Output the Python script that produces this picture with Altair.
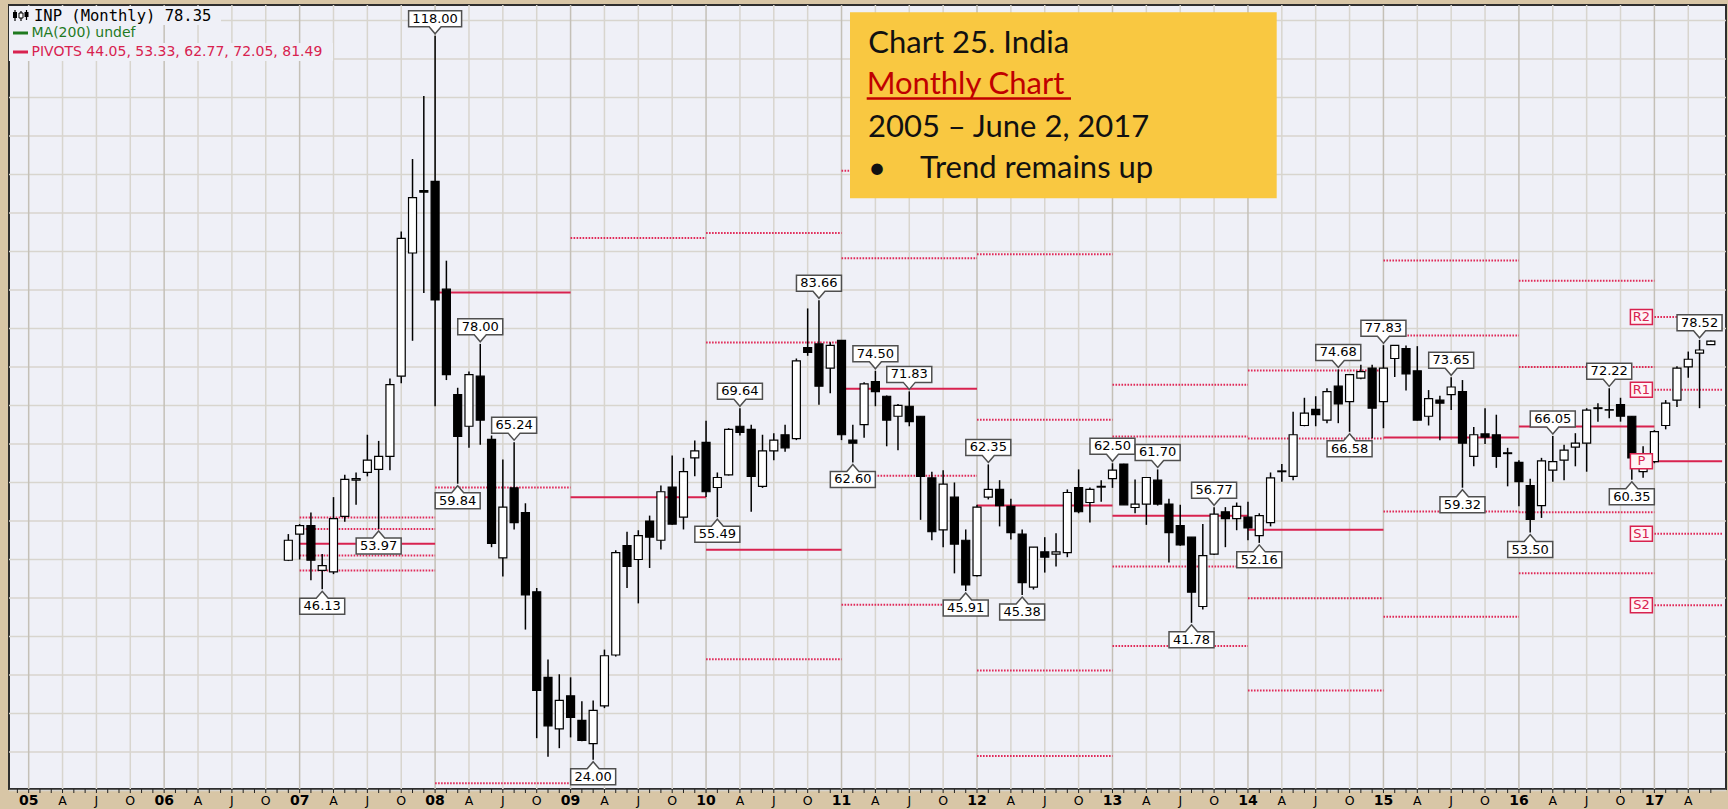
import altair as alt
import pandas as pd

# Bar index 0 = January 2005; the price series starts with December 2006.
FIRST_BAR = 23

OPEN = [
    49.9,                                                                      # 2006 Dec
    53.3, 54.4, 48.6, 48.4, 55.6, 60.3, 61.3, 61.7, 63.4, 73.8, 89.8, 97.9,    # 2007
    99.1, 85.1, 71.4, 67.3, 73.8, 65.6, 50.2, 59.3, 56.1, 45.8, 34.7, 28.0,    # 2008
    32.3, 29.1, 26.1, 31.0, 37.6, 51.8, 50.0, 55.0, 52.5, 59.4, 55.5, 63.2,    # 2009
    65.2, 59.35, 61.0, 67.3, 66.9, 59.5, 64.1, 66.2, 65.7, 77.5, 78.0, 74.85,  # 2010
    78.44, 65.5, 67.5, 73.1, 71.2, 68.6, 69.9, 68.6, 60.6, 53.85, 58.1, 52.5,  # 2011
    47.9, 58.1, 59.1, 56.9, 53.3, 46.4, 51.0, 50.7, 50.9, 59.35, 57.4, 59.4,   # 2012
    60.5, 62.4, 56.75, 57.2, 60.3, 57.2, 54.4, 52.9, 43.9, 50.7, 56.2, 55.3,   # 2013
    55.5, 53.1, 54.8, 61.4, 60.8, 67.4, 69.5, 68.1, 72.5, 70.5, 73.55, 74.85,  # 2014
    70.5, 76.1, 77.4, 74.5, 68.6, 70.7, 71.4, 71.8, 63.4, 66.3, 66.2, 63.85,   # 2015
    62.6, 59.6, 57.0, 61.6, 62.9, 64.6, 65.1, 69.6, 69.4, 70.1, 68.6, 61.4,    # 2016
    62.7, 67.4, 70.7, 75.0, 76.8, 77.9,                                        # 2017
]
HIGH = [
    53.3,
    54.6, 56.1, 50.7, 58.1, 61.0, 61.3, 66.2, 65.4, 73.5, 92.6, 102.0, 110.2,
    118.0, 88.8, 72.3, 74.4, 78.0, 66.1, 63.0, 65.24, 57.3, 46.3, 37.0, 35.1,
    34.7, 31.6, 31.7, 38.3, 51.2, 53.6, 53.8, 55.7, 59.6, 63.5, 63.2, 65.45,
    68.0, 61.3, 67.05, 69.64, 67.5, 66.2, 66.4, 67.5, 76.1, 82.6, 83.66, 78.2,
    78.44, 67.5, 73.0, 74.5, 71.3, 70.2, 71.83, 68.6, 61.4, 61.6, 60.0, 53.9,
    57.1, 62.35, 60.3, 57.9, 53.9, 51.6, 52.9, 53.4, 59.1, 61.7, 59.35, 60.3,
    62.5, 62.42, 60.4, 60.65, 61.7, 57.9, 57.1, 52.9, 54.6, 56.77, 56.8, 57.4,
    57.5, 56.0, 61.3, 62.4, 69.2, 71.0, 71.2, 72.25, 74.68, 74.0, 75.3, 75.3,
    77.83, 77.7, 77.8, 77.7, 72.0, 71.25, 73.65, 73.3, 67.2, 69.65, 68.8, 64.5,
    62.9, 60.5, 63.2, 66.05, 64.9, 66.4, 69.65, 70.3, 72.22, 71.0, 68.6, 64.7,
    66.8, 70.7, 75.1, 77.0, 78.52, 78.44,
]
LOW = [
    49.8,
    50.0, 47.3, 46.13, 48.1, 54.9, 57.1, 60.8, 53.97, 61.6, 72.9, 78.4, 84.6,
    69.9, 73.3, 59.84, 64.5, 64.9, 51.6, 47.8, 53.9, 40.9, 26.8, 24.4, 25.5,
    26.9, 26.4, 24.0, 30.7, 37.4, 46.3, 44.3, 48.9, 51.3, 54.5, 53.9, 60.8,
    58.1, 55.49, 60.9, 66.1, 56.2, 59.3, 62.9, 64.0, 65.5, 76.45, 70.1, 71.6,
    65.5, 62.6, 65.8, 69.9, 64.7, 64.2, 67.3, 55.15, 52.5, 51.6, 48.2, 45.91,
    47.8, 57.8, 54.3, 52.6, 45.38, 46.1, 48.3, 49.1, 50.3, 56.0, 54.8, 57.5,
    59.3, 57.1, 56.0, 54.5, 57.0, 49.6, 51.8, 41.78, 43.5, 50.6, 51.6, 53.8,
    52.5, 52.16, 54.3, 60.1, 60.3, 67.3, 67.3, 67.7, 67.7, 66.58, 73.4, 65.75,
    67.05, 73.7, 71.95, 68.05, 67.4, 65.5, 69.4, 59.32, 62.1, 65.0, 61.9, 59.5,
    56.9, 53.5, 55.4, 60.1, 60.3, 62.1, 61.4, 67.9, 68.35, 67.9, 60.35, 60.6,
    62.5, 66.9, 69.8, 73.6, 69.65, 77.9,
]
CLOSE = [
    52.5,
    54.4, 49.9, 49.2, 55.3, 60.4, 60.5, 62.9, 63.4, 72.7, 91.7, 97.0, 97.7,
    83.7, 74.0, 66.0, 74.0, 68.1, 52.1, 56.8, 54.8, 45.4, 33.0, 28.4, 31.7,
    29.5, 26.5, 30.4, 37.5, 50.9, 49.1, 53.1, 52.9, 58.8, 54.6, 61.4, 64.1,
    58.8, 60.65, 66.9, 66.5, 60.8, 64.1, 65.5, 64.5, 75.8, 76.9, 72.5, 77.8,
    66.2, 65.1, 72.8, 71.8, 68.1, 70.0, 67.9, 60.8, 53.6, 59.8, 52.0, 46.7,
    56.8, 59.1, 57.0, 53.5, 47.0, 51.6, 50.3, 51.0, 58.7, 56.2, 59.1, 59.5,
    61.6, 57.1, 57.2, 60.65, 57.2, 53.5, 51.9, 45.75, 50.5, 55.9, 55.3, 56.9,
    54.1, 55.7, 60.6, 61.5, 66.2, 69.0, 68.8, 71.8, 70.2, 74.0, 74.4, 69.65,
    74.85, 77.8, 74.1, 68.1, 70.9, 70.3, 72.4, 65.1, 66.2, 65.9, 63.4, 63.75,
    60.1, 55.2, 62.8, 62.7, 64.2, 65.1, 69.4, 69.7, 69.45, 68.6, 63.2, 62.6,
    66.6, 70.3, 74.85, 76.0, 77.2, 78.35,
]

# Swing highs / lows that carry a value callout (bar indices)
HIGH_MARKS = [36, 40, 43, 63, 70, 75, 78, 85, 96, 100, 105, 116, 120, 126, 135, 140, 148]
LOW_MARKS = [26, 31, 38, 50, 61, 73, 83, 88, 103, 109, 117, 127, 133, 142]

# Yearly pivot levels (None = outside the visible price range)
PIVOT_START = [24, 36, 48, 60, 72, 84, 96, 108, 120, 132, 144]
PIVOT_END = [36, 48, 60, 72, 84, 96, 108, 120, 132, 144, 150]
PIVOT_R2 = [55.45, None, None, 92.38, 100.48, 89.65, 72.68, 74.54, 88.82, 86.2, 81.49]
PIVOT_R1 = [53.97, None, 91.73, 78.18, 89.13, 68.14, 65.97, 65.7, 79.09, 74.98, 72.05]
PIVOT_P = [52.03, 84.67, 58.09, 51.25, 72.16, 57.0, 55.67, 53.85, 65.84, 67.27, 62.77]
PIVOT_S1 = [50.51, 59.34, None, 37.05, 60.86, 35.6, 49.09, 44.98, 56.23, 56.15, 53.33]
PIVOT_S2 = [48.56, 20.94, None, None, 44.11, 24.49, 38.78, 33.0, 42.58, 48.22, 44.05]

# Time axis: a tick every month, a label and grid line every quarter
MONTH_TICKS = list(range(-1, 150))
YEAR_LABELS = ["05", "06", "07", "08", "09", "10", "11", "12", "13", "14", "15", "16", "17"]
QUARTER_LABELS = ["A", "J", "O"]
TICK_LABELS = []
for yl in YEAR_LABELS:
    TICK_LABELS += [yl] + QUARTER_LABELS
QUARTER_TICKS = [3 * k for k in range(len(TICK_LABELS)) if 3 * k < 150]
TICK_LABELS = TICK_LABELS[:len(QUARTER_TICKS)]
PRICE_GRID = list(range(20, 125, 5))

LEGEND_LINES = ["INP (Monthly) 78.35", "MA(200) undef", "PIVOTS 44.05, 53.33, 62.77, 72.05, 81.49"]
NOTE_LINES = ["Chart 25. India", "Monthly Chart", "2005 \u2013 June 2, 2017", "Trend remains up"]

W, H = 1717, 784
PIVOT_RED = "#D8224F"
GRID = "#D8D5CE"
GRID_YEAR = "#C4C0B7"
PLOT_BG = "#EFF0F7"

# ---------------------------------------------------------------- tables
candles = pd.DataFrame({
    "i": list(range(FIRST_BAR, FIRST_BAR + len(OPEN))),
    "open": OPEN, "high": HIGH, "low": LOW, "close": CLOSE,
})

piv_rows = []
for k, (s, e) in enumerate(zip(PIVOT_START, PIVOT_END)):
    for name, arr in (("R2", PIVOT_R2), ("R1", PIVOT_R1), ("P", PIVOT_P),
                      ("S1", PIVOT_S1), ("S2", PIVOT_S2)):
        if arr[k] is not None:
            piv_rows.append({"start": s, "end": e, "value": arr[k], "level": name})
pivots = pd.DataFrame(piv_rows)
last_pivots = pd.DataFrame({
    "i": [PIVOT_START[-1]] * 5,
    "value": [PIVOT_R2[-1], PIVOT_R1[-1], PIVOT_P[-1], PIVOT_S1[-1], PIVOT_S2[-1]],
    "level": ["R2", "R1", "P", "S1", "S2"],
})

def callout_table(idx, series):
    vals = [series[i - FIRST_BAR] for i in idx]
    df = pd.DataFrame({"i": idx, "v": vals})
    df["txt"] = [f"{v:.2f}" for v in vals]
    df["wide"] = df["txt"].str.len() > 5
    return df

hi_calls = callout_table(HIGH_MARKS, HIGH)
lo_calls = callout_table(LOW_MARKS, LOW)

quarters = pd.DataFrame({"q": QUARTER_TICKS, "label": TICK_LABELS})
quarters["year"] = quarters["q"] % 12 == 0
months = pd.DataFrame({"m": MONTH_TICKS})
levels = pd.DataFrame({"p": PRICE_GRID})

one = pd.DataFrame({"k": [0]})

# ---------------------------------------------------------------- scales
X_SCALE = alt.Scale(domain=[-1.3, 149.9], nice=False, zero=False)
Y_SCALE = alt.Scale(domain=[20.2, 122.0], nice=False, zero=False)

def X(field):
    return alt.X(field, type="quantitative", scale=X_SCALE, axis=None, title=None)

def Y(field):
    return alt.Y(field, type="quantitative", scale=Y_SCALE, axis=None, title=None)

# ---------------------------------------------------------------- grid and time scale
h_grid = alt.Chart(levels).mark_rule(color=GRID, strokeWidth=1.5).encode(
    y=Y("p"), x=alt.value(0), x2=alt.value(W)
)
v_grid = alt.Chart(quarters).mark_rule(strokeWidth=1.5).encode(
    x=X("q"), y=alt.value(0), y2=alt.value(H),
    color=alt.condition("datum.year", alt.value(GRID_YEAR), alt.value(GRID)),
)
month_ticks = alt.Chart(months).mark_rule(color="#222222", strokeWidth=1).encode(
    x=X("m"), y=alt.value(H), y2=alt.value(H + 4)
)
year_text = alt.Chart(quarters).transform_filter("datum.year").mark_text(
    font="DejaVu Sans", fontSize=14, fontWeight="bold", color="black", baseline="middle"
).encode(x=X("q"), y=alt.value(H + 11.5), text="label:N")
month_text = alt.Chart(quarters).transform_filter("!datum.year").mark_text(
    font="DejaVu Sans", fontSize=12.5, color="black", baseline="middle"
).encode(x=X("q"), y=alt.value(H + 11.5), text="label:N")

# ---------------------------------------------------------------- pivot lines
piv_solid = alt.Chart(pivots).transform_filter("datum.level === 'P'").mark_rule(
    color=PIVOT_RED, strokeWidth=2, clip=True
).encode(x=X("start"), x2="end", y=Y("value"))

piv_dotted = alt.Chart(pivots).transform_filter("datum.level !== 'P'").mark_rule(
    color="#E02A58", strokeWidth=2, strokeDash=[1.6, 1.4], clip=True
).encode(x=X("start"), x2="end", y=Y("value"))

# ---------------------------------------------------------------- candles
wicks = alt.Chart(candles).mark_rule(color="black", strokeWidth=1.5).encode(
    x=X("i"), y=Y("low"), y2="high"
)
bodies = alt.Chart(candles).mark_bar(width=8, stroke="black", strokeWidth=1.2).encode(
    x=X("i"), y=Y("open"), y2="close",
    fill=alt.condition("datum.close >= datum.open", alt.value("white"), alt.value("black")),
)

# ---------------------------------------------------------------- callouts
def callout_path(half, above):
    s = -1 if above else 1
    return (f"M0,{0.2 * s}L0.6,{0.9 * s}L{half},{0.9 * s}L{half},{2.5 * s}"
            f"L{-half},{2.5 * s}L{-half},{0.9 * s}L-0.6,{0.9 * s}Z")

def callout_layers(df, above):
    layers = []
    for wide, half in ((False, 2.25), (True, 2.65)):
        sub = df[df["wide"] == wide]
        if len(sub) == 0:
            continue
        layers.append(alt.Chart(sub).mark_point(
            shape=callout_path(half, above), size=400, filled=True, fill="white",
            stroke="#4f4f4f", strokeWidth=1.5, opacity=1
        ).encode(x=X("i"), y=Y("v")))
    layers.append(alt.Chart(df).mark_text(
        font="DejaVu Sans", fontSize=13, color="black", baseline="middle",
        align="center", dy=-17 if above else 17
    ).encode(x=X("i"), y=Y("v"), text="txt:N"))
    return layers

callouts = callout_layers(hi_calls, True) + callout_layers(lo_calls, False)

tag_boxes = alt.Chart(last_pivots).mark_point(
    shape="M-2.4,-0.75L-0.2,-0.75L-0.2,0.75L-2.4,0.75Z", size=400, filled=True,
    fill="#FFF4F6", stroke=PIVOT_RED, strokeWidth=1.5, opacity=1
).encode(x=X("i"), y=Y("value"))
tag_text = alt.Chart(last_pivots).mark_text(
    font="DejaVu Sans", fontSize=13, color=PIVOT_RED, baseline="middle", align="center", dx=-13
).encode(x=X("i"), y=Y("value"), text="level:N")

# ---------------------------------------------------------------- legend block
def box(x, x2, y, y2, color, stroke=None):
    kw = {"color": color}
    if stroke:
        kw.update(stroke=stroke, strokeWidth=1)
    return alt.Chart(one).mark_rect(**kw).encode(
        x=alt.value(x), x2=alt.value(x2), y=alt.value(y), y2=alt.value(y2))

def label(txt, x, y, size, color, font="DejaVu Sans", baseline="middle", weight="normal"):
    return alt.Chart(one).mark_text(
        font=font, fontSize=size, color=color, align="left", baseline=baseline, fontWeight=weight
    ).encode(x=alt.value(x), y=alt.value(y), text=alt.value(txt))

def hline(x, x2, y, color, width):
    return alt.Chart(one).mark_rule(color=color, strokeWidth=width).encode(
        x=alt.value(x), x2=alt.value(x2), y=alt.value(y))

def vline(x, y, y2, color, width):
    return alt.Chart(one).mark_rule(color=color, strokeWidth=width).encode(
        x=alt.value(x), y=alt.value(y), y2=alt.value(y2))

legend = [
    box(0, 212, 1, 20, PLOT_BG),
    box(0, 140, 20, 38, PLOT_BG),
    box(0, 324, 38, 56, PLOT_BG),
    vline(6, 5, 16, "black", 1.2), box(4, 8, 7, 13, "black"),
    vline(12, 6, 16, "black", 1.2), box(10, 14, 8, 13, "white", "black"),
    vline(17.5, 5, 15, "black", 1.2), box(15.5, 19.5, 7, 12, "black"),
    label(LEGEND_LINES[0], 25, 10.5, 15.5, "black", font="DejaVu Sans Mono"),
    hline(4, 19, 28, "#1F7A1F", 3),
    label(LEGEND_LINES[1], 22.5, 28.3, 14, "#1F7A1F"),
    hline(4, 19, 47, PIVOT_RED, 3),
    label(LEGEND_LINES[2], 22.5, 47, 14, PIVOT_RED),
]

# ---------------------------------------------------------------- note box
note = [
    box(841, 1267.7, 7.3, 193.3, "#F9C841"),
    label(NOTE_LINES[0], 859.3, 47.7, 31, "#111111", font="Lato", baseline="alphabetic"),
    label(NOTE_LINES[1], 857.7, 89.3, 31, "#C00000", font="Lato", baseline="alphabetic"),
    hline(857.7, 1062, 93.5, "#C00000", 2.5),
    label(NOTE_LINES[2], 859.0, 131.7, 31, "#111111", font="Lato", baseline="alphabetic"),
    label("\u2022", 859.0, 173.3, 31, "#111111", font="Lato", baseline="alphabetic"),
    label(NOTE_LINES[3], 911.0, 173.3, 31, "#111111", font="Lato", baseline="alphabetic"),
]

chart = alt.layer(
    h_grid, v_grid, month_ticks, year_text, month_text,
    piv_dotted, piv_solid, wicks, bodies, *callouts, tag_boxes, tag_text,
    *legend, *note
).properties(
    width=W, height=H,
    padding={"left": 9, "top": 5, "right": 2, "bottom": 20},
    autosize=alt.AutoSizeParams(type="none"),
).configure(
    background="#D8C6A6"
).configure_view(
    fill=PLOT_BG, stroke="#2E2E2E", strokeWidth=2
)

chart.save("out.html", embed_options={"renderer": "svg", "actions": False})
